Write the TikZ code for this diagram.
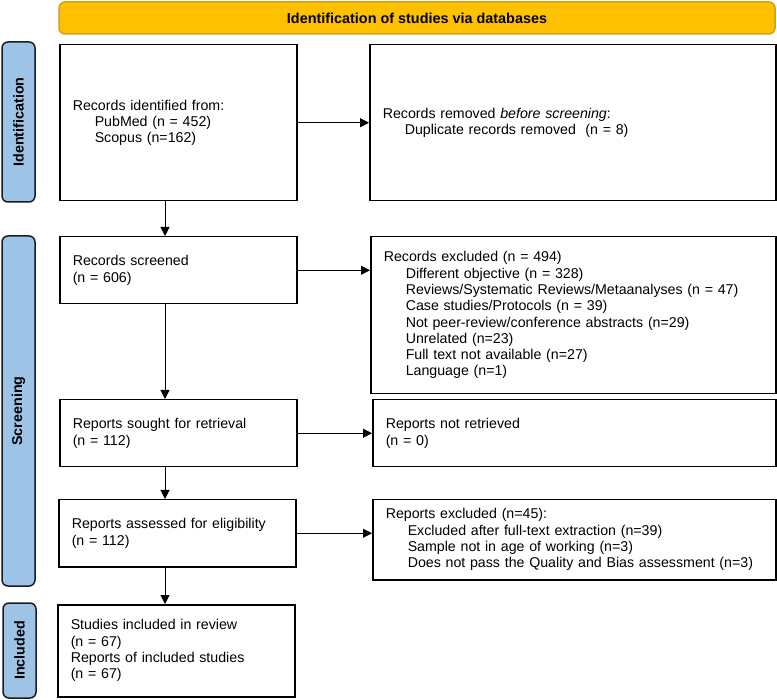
\documentclass[tikz,border=0pt]{standalone}
\usepackage{fontspec}
\setmainfont{Liberation Sans}
\usetikzlibrary{arrows.meta}

\definecolor{bannerfill}{RGB}{255,192,0}
\definecolor{bannerline}{RGB}{212,160,24}
\definecolor{phasefill}{RGB}{157,195,230}
\definecolor{phaseline}{RGB}{28,28,32}
\newcommand{\listindent}{\hspace*{22pt}}

\tikzset{
  flowbox/.style={draw=black, line width=1.5pt, fill=white, anchor=north west,
    inner xsep=13pt, inner ysep=0pt, align=left,
    font=\fontsize{14.2}{16.3}\selectfont},
  phasebar/.style={draw=phaseline, fill=phasefill, line width=1.5pt,
    rounded corners=6pt, inner sep=0pt, rotate=90,
    font=\bfseries\fontsize{14.3}{16}\selectfont},
  flowarrow/.style={line width=1pt, -{Triangle[length=9pt,width=9pt]}},
}

\begin{document}
\begin{tikzpicture}[x=1pt,y=-1pt]
\useasboundingbox (0,0) rectangle (777,700);
% banner
\node[draw=bannerline, fill=bannerfill, line width=1.5pt, rounded corners=6pt,
  minimum width=716pt, minimum height=32pt, inner sep=0pt,
  font=\bfseries\fontsize{14.4}{16}\selectfont] (banner) at (417,18)
  {Identification of studies via databases};
% phases
\node[phasebar, minimum width=160pt, minimum height=33pt] (identphase) at (18.5,122) {Identification};
\node[phasebar, minimum width=350pt, minimum height=33pt] (screenphase) at (18.5,411) {Screening};
\node[phasebar, minimum width=95pt, minimum height=33pt] (inclphase) at (19.5,650.5) {Included};
% left column
\node[flowbox, text width=211pt, minimum height=156pt] (identified) at (59,44)
  {Records identified from:\\\listindent PubMed (n = 452)\\\listindent Scopus (n=162)};
\node[flowbox, text width=211pt, minimum height=67pt] (screened) at (59,236)
  {Records screened\\(n = 606)};
\node[flowbox, text width=211pt, minimum height=67pt] (sought) at (59,399)
  {Reports sought for retrieval\\(n = 112)};
\node[flowbox, text width=211pt, minimum height=67pt] (assessed) at (58,499)
  {Reports assessed for eligibility\\(n = 112)};
\node[flowbox, text width=211pt, minimum height=92pt] (included) at (57,604)
  {Studies included in review\\(n = 67)\\Reports of included studies\\(n = 67)};
% right column
\node[flowbox, text width=380pt, minimum height=156pt] (removed) at (369,44)
  {Records removed \textit{before screening}:\\\listindent Duplicate records removed~ (n = 8)};
\node[flowbox, text width=379pt, minimum height=157pt] (excluded) at (370,236)
  {Records excluded (n = 494)\\
   \listindent Different objective (n = 328)\\
   \listindent Reviews/Systematic Reviews/Metaanalyses (n = 47)\\
   \listindent Case studies/Protocols (n = 39)\\
   \listindent Not peer-review/conference abstracts (n=29)\\
   \listindent Unrelated (n=23)\\
   \listindent Full text not available (n=27)\\
   \listindent Language (n=1)};
\node[flowbox, text width=377pt, minimum height=67pt] (notretrieved) at (372,399)
  {Reports not retrieved\\(n = 0)};
\node[flowbox, text width=377pt, minimum height=80pt] (reportsexcl) at (372,499)
  {Reports excluded (n=45):\\
   \listindent Excluded after full-text extraction (n=39)\\
   \listindent Sample not in age of working (n=3)\\
   \listindent Does not pass the Quality and Bias assessment (n=3)};
% connectors
\coordinate (spine) at (165,0);
\draw[flowarrow] (identified.south -| spine) -- (screened.north -| spine);
\draw[flowarrow] (screened.south -| spine) -- (sought.north -| spine);
\draw[flowarrow] (sought.south -| spine) -- (assessed.north -| spine);
\draw[flowarrow] (assessed.south -| spine) -- (included.north -| spine);
\draw[flowarrow] (identified.east) -- (identified.east -| removed.west);
\draw[flowarrow] (screened.east) -- (screened.east -| excluded.west);
\draw[flowarrow] (sought.east) -- (sought.east -| notretrieved.west);
\draw[flowarrow] (assessed.east) -- (assessed.east -| reportsexcl.west);
\end{tikzpicture}
\end{document}
